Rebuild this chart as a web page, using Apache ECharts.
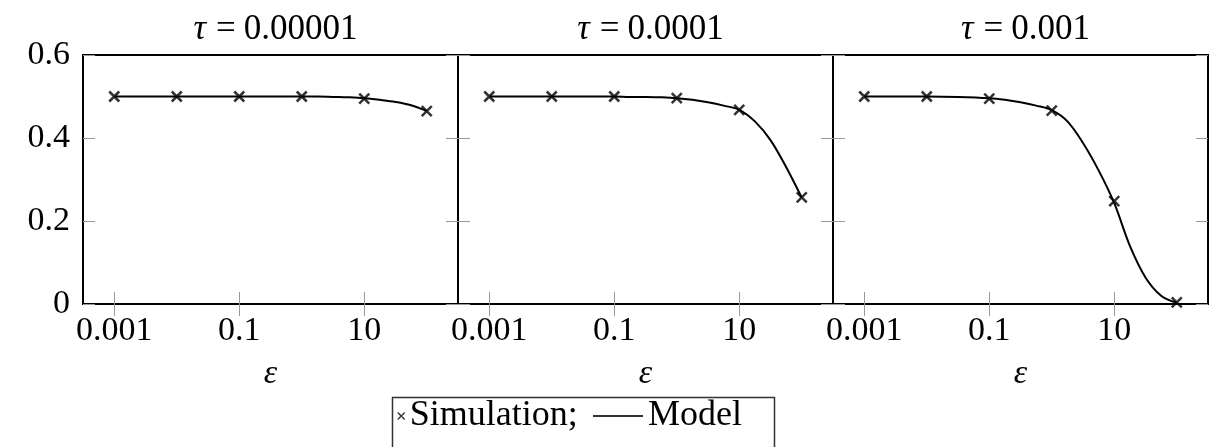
<!DOCTYPE html>
<html>
<head>
<meta charset="utf-8">
<script src="https://cdn.jsdelivr.net/npm/echarts@6/dist/echarts.min.js"></script>
<style>
html,body{margin:0;padding:0;background:#fff;}
#chart{width:1210px;height:447px;}
</style>
</head>
<body>
<div id="chart"></div>
<script>
// ---- data ----
const eps = [0.001, 0.01, 0.1, 1, 10, 100];
const simTau00001 = [0.5, 0.5, 0.5, 0.5, 0.495, 0.465];
const simTau0001 = [0.5, 0.5, 0.5, 0.496, 0.468, 0.257];
const simTau001 = [0.5, 0.5, 0.495, 0.466, 0.248, 0.004];

const modelEps = [0.001, 0.00316, 0.01, 0.0316, 0.1, 0.178, 0.316, 0.562, 1, 1.78, 3.16, 5.62, 10, 17.8, 31.6, 56.2, 100];
const modelTau00001 = [0.5, 0.5, 0.5, 0.5, 0.5, 0.5, 0.5, 0.5, 0.5, 0.5, 0.499, 0.498, 0.496, 0.492, 0.487, 0.479, 0.465];
const modelTau0001 = [0.5, 0.5, 0.5, 0.5, 0.5, 0.499, 0.499, 0.498, 0.496, 0.492, 0.486, 0.478, 0.468, 0.44, 0.395, 0.33, 0.256];
const modelTau001 = [0.5, 0.5, 0.5, 0.499, 0.496, 0.492, 0.486, 0.478, 0.467, 0.44, 0.388, 0.322, 0.243, 0.14, 0.064, 0.02, 0.003];

const tauLabels = ['0.00001', '0.0001', '0.001'];
const xTickValues = [0.001, 0.1, 10];
const xLabelTexts = ['0.001', '0.1', '10'];
const sims = [simTau00001, simTau0001, simTau001];
const models = [modelTau00001, modelTau0001, modelTau001];

// ---- layout ----
const FONT = '"Liberation Serif", "DejaVu Serif", serif';
const FS = 34;
const gridLefts = [83, 458, 833];
const gridW = 375, gridTop = 55, gridH = 249;
const xMin = Math.pow(10, -3.5), xMax = Math.pow(10, 2.5);
const tickStyle = {show: true, inside: true, length: 12, lineStyle: {color: '#999', width: 1}};
const xSymbol = 'path://M0,0L10,10M10,0L0,10';

const grid = [], xAxis = [], yAxis = [], series = [], title = [];
for (let i = 0; i < 3; i++) {
  grid.push({left: gridLefts[i], top: gridTop, width: gridW, height: gridH, show: true,
    borderColor: '#000', borderWidth: 2, backgroundColor: 'transparent', containLabel: false, outerBoundsMode: 'none'});
  xAxis.push({type: 'log', gridIndex: i, min: xMin, max: xMax, position: 'bottom',
    axisLine: {show: false}, splitLine: {show: false},
    axisTick: Object.assign({customValues: xTickValues}, tickStyle),
    axisLabel: {show: true, customValues: xTickValues, margin: 10, color: '#000', fontFamily: FONT, fontSize: FS,
      formatter: function (v) { const k = xTickValues.findIndex(t => Math.abs(Math.log10(t) - Math.log10(v)) < 1e-6); return k >= 0 ? xLabelTexts[k] : ''; }},
    name: '{i|ε}', nameLocation: 'middle', nameGap: 53,
    nameTextStyle: {color: '#000', fontFamily: FONT, fontSize: FS, rich: {i: {fontStyle: 'italic', fontFamily: FONT, fontSize: FS, color: '#000'}}}
  });
  xAxis.push({type: 'log', gridIndex: i, min: xMin, max: xMax, position: 'top',
    axisLine: {show: false}, splitLine: {show: false},
    axisTick: Object.assign({customValues: xTickValues}, tickStyle),
    axisLabel: {show: false}});
  yAxis.push({type: 'value', gridIndex: i, min: 0, max: 0.6, interval: 0.2, position: 'left',
    axisLine: {show: false}, splitLine: {show: false}, axisTick: tickStyle,
    axisLabel: {show: i === 0, margin: 13, color: '#000', fontFamily: FONT, fontSize: FS}});
  yAxis.push({type: 'value', gridIndex: i, min: 0, max: 0.6, interval: 0.2, position: 'right',
    axisLine: {show: false}, splitLine: {show: false}, axisTick: tickStyle, axisLabel: {show: false}});

  series.push({type: 'line', name: 'Model', xAxisIndex: 2 * i, yAxisIndex: 2 * i,
    data: modelEps.map((x, j) => [x, models[i][j]]), symbol: 'none', smooth: 0.35,
    lineStyle: {color: '#000', width: 2}, itemStyle: {color: '#000'}, z: 2, silent: true});
  series.push({type: 'scatter', name: 'Simulation;', xAxisIndex: 2 * i, yAxisIndex: 2 * i,
    data: eps.map((x, j) => [x, sims[i][j]]), symbol: xSymbol, symbolSize: 10,
    itemStyle: {color: '#000', borderColor: '#000', borderWidth: 2.5}, z: 3, silent: true});

  title.push({text: '{i|τ}{e|=}' + tauLabels[i], left: gridLefts[i] + gridW / 2, textAlign: 'center', top: 7,
    textStyle: {color: '#000', fontFamily: FONT, fontSize: 35, fontWeight: 'normal',
      rich: {i: {fontStyle: 'italic', fontFamily: FONT, fontSize: 35, color: '#000'},
             e: {fontFamily: FONT, fontSize: 35, color: '#000', padding: [0, 8, 0, 10]}}}});
}

const legendText = {color: '#000', fontFamily: FONT, fontSize: 36};
const option = {
  animation: false,
  backgroundColor: '#fff',
  title: title,
  grid: grid, xAxis: xAxis, yAxis: yAxis, series: series,
  legend: [
    {data: [{name: 'Simulation;', icon: xSymbol}], left: 397, top: 398, itemWidth: 7, itemHeight: 7,
      textStyle: legendText, itemStyle: {borderWidth: 1.4, borderColor: '#000'}, padding: 0, selectedMode: false},
    {data: [{name: 'Model', icon: 'rect'}], left: 593, top: 398, itemWidth: 50, itemHeight: 2,
      textStyle: legendText, itemStyle: {color: '#333'}, padding: 0, selectedMode: false}
  ],
  graphic: [
    {type: 'rect', left: 390, top: 395, shape: {width: 382, height: 70}, style: {fill: 'none', stroke: '#333', lineWidth: 1.5}, z: 10}
  ]
};
const chart = echarts.init(document.getElementById('chart'), null, {renderer: 'canvas'});
chart.setOption(option);
</script>
</body>
</html>
